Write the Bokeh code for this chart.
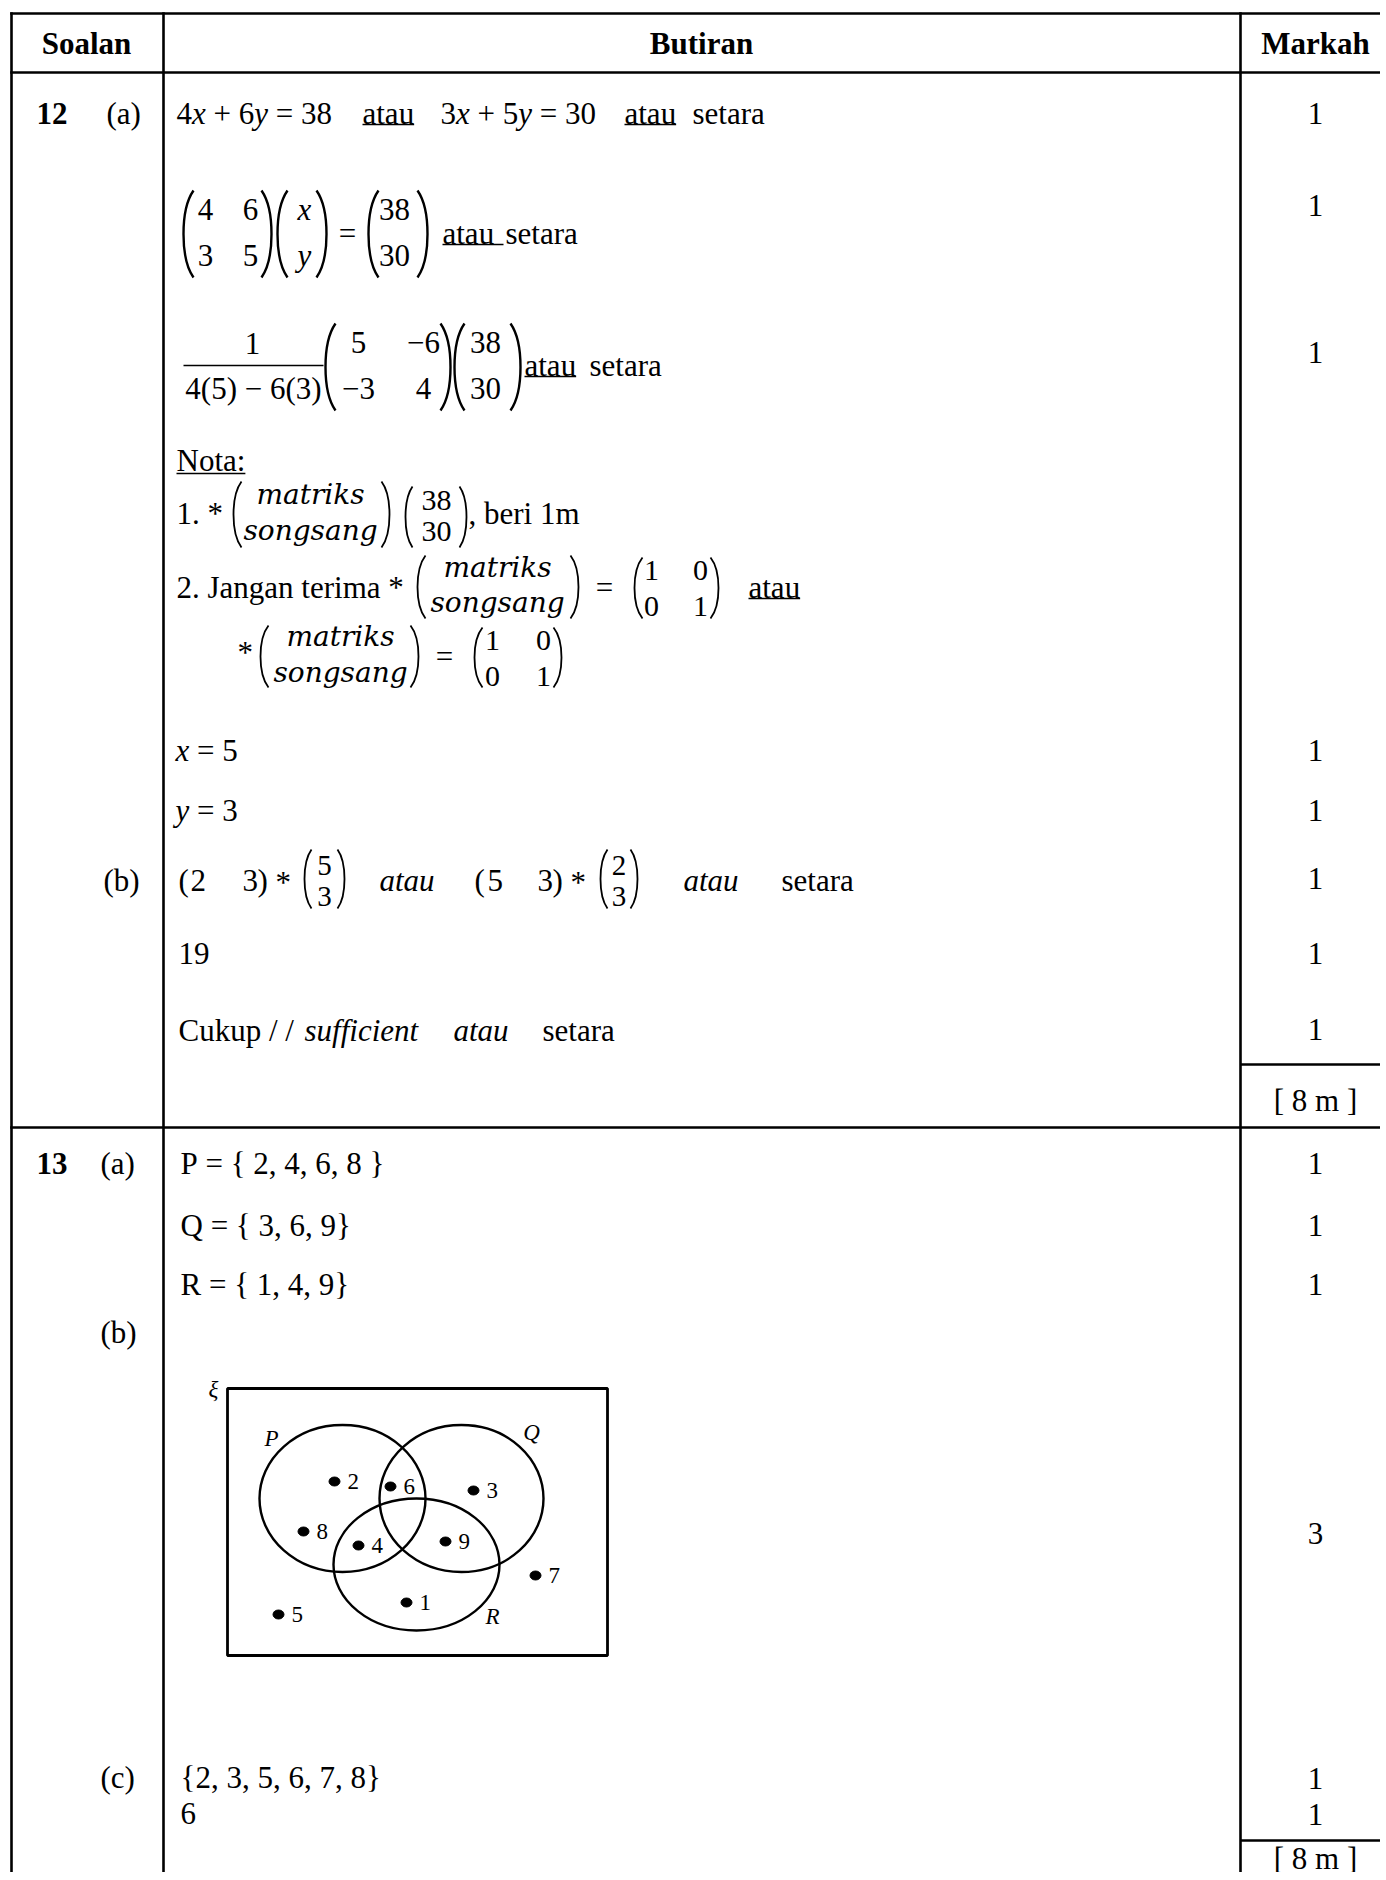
from bokeh.plotting import figure
from bokeh.models import Range1d
from bokeh.core.properties import value
from bokeh.embed import file_html
from bokeh.resources import INLINE

# ---------------- data ----------------
header = ["Soalan", "Butiran", "Markah"]
soalan_no = ["12", "13"]
bahagian_12 = ["(a)", "(b)"]
bahagian_13 = ["(a)", "(b)", "(c)"]
markah_12 = ["1", "1", "1", "1", "1", "1", "1", "1"]
markah_13 = ["1", "1", "1", "3", "1", "1"]
jumlah = ["[ 8 m ]", "[ 8 m ]"]
matriks_A = [["4", "6"], ["3", "5"]]
vektor_xy = ["x", "y"]
vektor_b = ["38", "30"]
matriks_adj = [["5", "\u22126"], ["\u22123", "4"]]
penentu = "4(5) \u2212 6(3)"
identiti = [["1", "0"], ["0", "1"]]
nota_kata = ["matriks", "songsang"]
jawapan_x = "5"
jawapan_y = "3"
baris_b = [["2", "3"], ["5", "3"]]
lajur_b = [["5", "3"], ["2", "3"]]
jawapan_b = "19"
set_P = ["2", "4", "6", "8"]
set_Q = ["3", "6", "9"]
set_R = ["1", "4", "9"]
venn_unsur = ["2", "6", "3", "8", "4", "9", "7", "1", "5"]
venn_set = ["P", "Q", "R"]
jawapan_c = ["2", "3", "5", "6", "7", "8"]
bilangan_c = "6"

# ---------------- layout ----------------
SERIF = "Liberation Serif"
MATH = "DejaVu Serif"
FS = 31
W, H = 1380, 1872

WR = {' ': 250, '+': 564, '=': 564, '\u2212': 564, '(': 333, ')': 333, '{': 480, '}': 480,
      ',': 250, '.': 250, '/': 278, ':': 278, '*': 500, '[': 333, ']': 333,
      'A': 722, 'C': 667, 'J': 389, 'N': 722, 'P': 556, 'Q': 722, 'R': 667,
      'a': 444, 'b': 500, 'c': 444, 'e': 444, 'f': 333, 'g': 500, 'i': 278, 'k': 500,
      'm': 778, 'n': 500, 'o': 500, 'p': 500, 'r': 333, 's': 389, 't': 278, 'u': 500,
      'x': 500, 'y': 500}
WI = {' ': 250, 'a': 500, 'c': 444, 'e': 444, 'f': 278, 'i': 278, 'n': 500, 's': 389,
      't': 278, 'u': 500, 'x': 444, 'y': 444}


def width(s, style="normal", size=FS):
    tab = WI if style == "italic" else WR
    return sum(tab.get(c, 500) for c in s) / 1000.0 * size


p = figure(width=W, height=H, x_range=Range1d(0, W), y_range=Range1d(H, 0),
           output_backend="svg", toolbar_location=None, min_border=0,
           x_axis_location=None, y_axis_location=None)
p.grid.visible = False
p.outline_line_color = None
p.background_fill_color = "white"
p.border_fill_color = "white"


def T(x, y, s, size=FS, style="normal", align="left", font=SERIF):
    s = s.replace(" ", "\u00a0")
    p.text(x=[x], y=[y], text=[s], text_font=value(font), text_font_size=f"{size}px",
           text_font_style=style, text_align=align, text_baseline="middle",
           text_color="black")


def run(x, y, segs, size=FS):
    for s, st in segs:
        T(x, y, s, size, st)
        x += width(s, st, size)
    return x


def UL(x0, x1, y):
    p.segment(x0=[x0], y0=[y], x1=[x1], y1=[y], line_width=1.6, line_color="black")


def paren(xl, xr, yt, yb, b=10, lw=2.4):
    h = yb - yt
    p.bezier(x0=[xl + b], y0=[yt], x1=[xl + b], y1=[yb], cx0=[xl - b / 3], cy0=[yt + 0.22 * h],
             cx1=[xl - b / 3], cy1=[yb - 0.22 * h], line_width=lw, line_color="black")
    p.bezier(x0=[xr - b], y0=[yt], x1=[xr - b], y1=[yb], cx0=[xr + b / 3], cy0=[yt + 0.22 * h],
             cx1=[xr + b / 3], cy1=[yb - 0.22 * h], line_width=lw, line_color="black")


# ---------------- table grid ----------------
LW = 2.6
p.segment(x0=[9.7, 9.7, 9.7, 1240, 1240], y0=[13, 72, 1127, 1064, 1840],
          x1=[W + 5] * 5, y1=[13, 72, 1127, 1064, 1840],
          line_width=LW, line_color="black")
p.segment(x0=[11, 163, 1240], y0=[11.7, 11.7, 11.7], x1=[11, 163, 1240], y1=[H + 5] * 3,
          line_width=LW, line_color="black")

# header
for txt, cx in zip(header, [86, 701, 1315]):
    T(cx, 43, txt, style="bold", align="center")

# ---------------- Soalan 12 ----------------
T(36, 113, soalan_no[0], style="bold")
T(106, 113, bahagian_12[0])

# line 1
run(176, 113, [("4", "normal"), ("x", "italic"), (" + 6", "normal"), ("y", "italic"), (" = 38", "normal")])
T(362, 113, "atau"); UL(362, 362 + width("atau"), 124)
run(440, 113, [("3", "normal"), ("x", "italic"), (" + 5", "normal"), ("y", "italic"), (" = 30", "normal")])
T(624, 113, "atau"); UL(624, 624 + width("atau"), 124)
T(692, 113, "setara")

# line 2: matrix equation
paren(183, 271, 190, 277)
paren(277, 326, 190, 277)
paren(368, 427, 190, 277)
for r, yy in enumerate([209, 255]):
    T(205, yy, matriks_A[r][0], align="center")
    T(250, yy, matriks_A[r][1], align="center")
    T(304, yy, vektor_xy[r], style="italic", align="center")
    T(394, yy, vektor_b[r], align="center")
T(347, 233, "=", align="center")
T(442, 233, "atau"); UL(442, 503, 244)
T(505, 233, "setara")

# line 3: inverse
T(252, 343, "1", align="center")
p.segment(x0=[183], y0=[365], x1=[323], y1=[365], line_width=1.6, line_color="black")
T(253, 388, penentu, align="center")
paren(325, 450, 323, 410)
paren(454, 520, 323, 410)
for r, yy in enumerate([342, 388]):
    T(358, yy, matriks_adj[r][0], align="center")
    T(423, yy, matriks_adj[r][1], align="center")
    T(485, yy, vektor_b[r], align="center")
T(524, 365, "atau"); UL(524, 524 + width("atau"), 376)
T(589, 365, "setara")

# Nota
T(176, 460, "Nota:"); UL(176, 176 + width("Nota:"), 473)
T(176, 513, "1. *")
paren(233, 389, 481, 547, b=8, lw=1.8)
T(310, 494, nota_kata[0], size=28, style="italic", align="center", font=MATH)
T(310, 530, nota_kata[1], size=28, style="italic", align="center", font=MATH)
paren(405, 466, 486, 547, b=7, lw=1.8)
T(436, 500, vektor_b[0], size=30, align="center")
T(436, 531, vektor_b[1], size=30, align="center")
T(468, 513, ", beri 1m")

T(176, 587, "2. Jangan terima *")
paren(417, 578, 555, 618, b=8, lw=1.8)
T(497, 567, nota_kata[0], size=28, style="italic", align="center", font=MATH)
T(497, 602, nota_kata[1], size=28, style="italic", align="center", font=MATH)
T(604, 587, "=", align="center")
paren(634, 718, 557, 618, b=8, lw=1.8)
for r, yy in enumerate([570, 606]):
    T(651, yy, identiti[r][0], size=30, align="center")
    T(700, yy, identiti[r][1], size=30, align="center")
T(748, 587, "atau"); UL(748, 748 + width("atau"), 598)

T(237, 652, "*")
paren(260, 418, 625, 687, b=8, lw=1.8)
T(340, 636, nota_kata[0], size=28, style="italic", align="center", font=MATH)
T(340, 672, nota_kata[1], size=28, style="italic", align="center", font=MATH)
T(444, 656, "=", align="center")
paren(474, 561, 627, 687, b=8, lw=1.8)
for r, yy in enumerate([640, 676]):
    T(492, yy, identiti[r][0], size=30, align="center")
    T(543, yy, identiti[r][1], size=30, align="center")

# x, y
run(175, 750, [("x", "italic"), (" = " + jawapan_x, "normal")])
run(175, 810, [("y", "italic"), (" = " + jawapan_y, "normal")])

# (b)
T(103, 880, bahagian_12[1])
for (rx, (a, b_), px, (c, d)) in [((178, 190, 242, 257), baris_b[0], (304, 344), lajur_b[0]),
                                   ((474, 487, 537, 552), baris_b[1], (600, 637), lajur_b[1])]:
    T(rx[0], 880, "(")
    T(rx[1], 880, a)
    T(rx[2], 880, b_)
    T(rx[3], 880, ")")
    T(rx[3] + 18, 882, "*")
    paren(px[0], px[1], 849, 908, b=7, lw=1.8)
    T((px[0] + px[1]) / 2, 865, c, size=29, align="center")
    T((px[0] + px[1]) / 2, 896, d, size=29, align="center")
T(379, 880, "atau", style="italic")
T(683, 880, "atau", style="italic")
T(781, 880, "setara")

T(178, 953, jawapan_b)
T(178, 1030, "Cukup / / ")
T(304, 1030, "sufficient", style="italic")
T(453, 1030, "atau", style="italic")
T(542, 1030, "setara")

# markah 12
for m, yy in zip(markah_12, [113, 205, 352, 750, 810, 878, 953, 1029]):
    T(1315, yy, m, align="center")
T(1315, 1100, jumlah[0], align="center")

# ---------------- Soalan 13 ----------------
T(36, 1163, soalan_no[1], style="bold")
T(100, 1163, bahagian_13[0])
T(180, 1163, "P = { " + ", ".join(set_P) + " }")
T(180, 1225, "Q = { " + ", ".join(set_Q) + "}")
T(180, 1284, "R = { " + ", ".join(set_R) + "}")
T(100, 1332, bahagian_13[1])

# Venn diagram
p.quad(left=[227], right=[607], top=[1388], bottom=[1655], fill_color=None,
       line_color="black", line_width=2.8)
p.ellipse(x=[342, 461, 416], y=[1498, 1498, 1564], width=[166, 164, 166], height=[147, 147, 132],
          fill_color=None, line_color="black", line_width=2.4)
dot_x = [334, 390, 473, 303, 358, 445, 535, 406, 278]
dot_y = [1481, 1486, 1490, 1531, 1545, 1541, 1575, 1602, 1614]
p.ellipse(x=dot_x, y=dot_y, width=11, height=9, fill_color="black", line_color="black")
for u, dx, dy in zip(venn_unsur, dot_x, dot_y):
    T(dx + 13, dy, u, size=23)
for s, sx, sy in zip(venn_set, [271, 531, 492], [1438, 1432, 1616]):
    T(sx, sy, s, size=23, style="italic", align="center")
T(213, 1389, "\u03be", size=23, style="italic", align="center")

T(100, 1777, bahagian_13[2])
T(180, 1777, "{" + ", ".join(jawapan_c) + "}")
T(180, 1813, bilangan_c)

for m, yy in zip(markah_13, [1163, 1225, 1284, 1533, 1778, 1814]):
    T(1315, yy, m, align="center")
T(1315, 1858, jumlah[1], align="center")

open("out.html", "w").write(file_html(p, INLINE))
